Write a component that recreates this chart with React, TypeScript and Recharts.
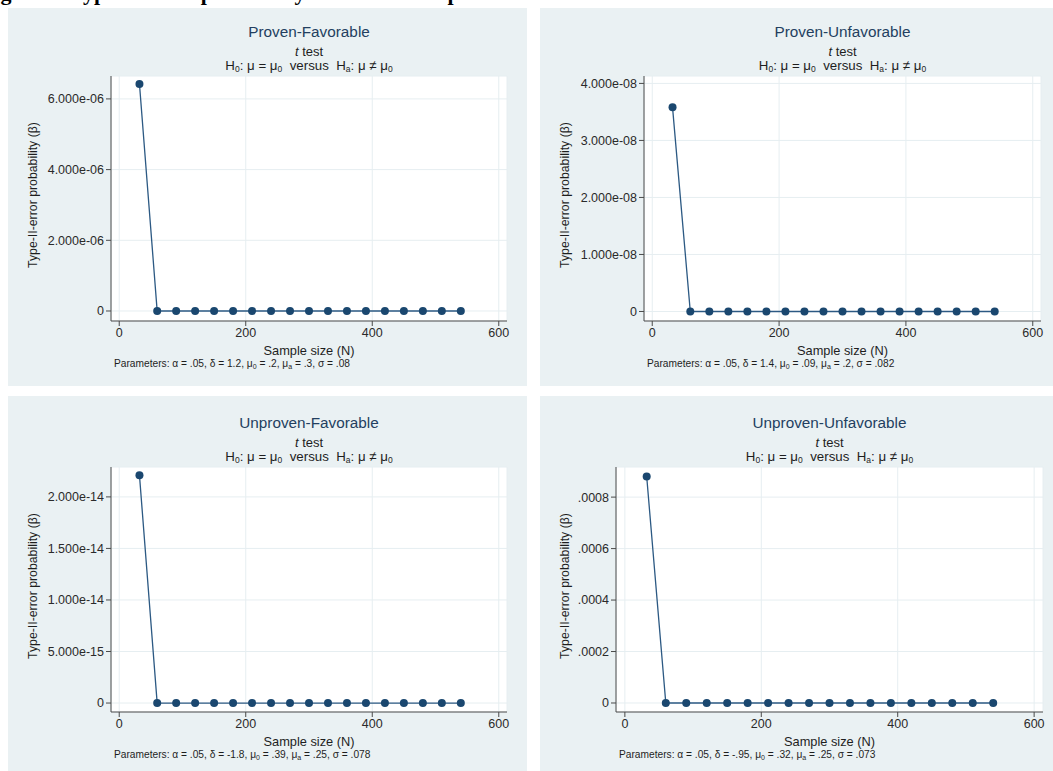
import React from "react";
import { LineChart, Line, XAxis, YAxis, CartesianGrid } from "recharts";

// sample sizes (N) on the x axis
const sampleSizes = [32, 60, 90, 120, 150, 180, 210, 240, 270, 300, 330, 360, 390, 420, 450, 480, 510, 540];

// type-II-error probability per group
const betaProvenFavorable = [6.42e-6, 0, 0, 0, 0, 0, 0, 0, 0, 0, 0, 0, 0, 0, 0, 0, 0, 0];
const betaProvenUnfavorable = [3.58e-8, 0, 0, 0, 0, 0, 0, 0, 0, 0, 0, 0, 0, 0, 0, 0, 0, 0];
const betaUnprovenFavorable = [2.21e-14, 0, 0, 0, 0, 0, 0, 0, 0, 0, 0, 0, 0, 0, 0, 0, 0, 0];
const betaUnprovenUnfavorable = [0.00088, 0, 0, 0, 0, 0, 0, 0, 0, 0, 0, 0, 0, 0, 0, 0, 0, 0];

const xTicks = [0, 200, 400, 600];

const yTicksPF = [0, 2e-6, 4e-6, 6e-6];
const yLabelsPF = ["0", "2.000e-06", "4.000e-06", "6.000e-06"];
const yTicksPU = [0, 1e-8, 2e-8, 3e-8, 4e-8];
const yLabelsPU = ["0", "1.000e-08", "2.000e-08", "3.000e-08", "4.000e-08"];
const yTicksUF = [0, 5e-15, 1e-14, 1.5e-14, 2e-14];
const yLabelsUF = ["0", "5.000e-15", "1.000e-14", "1.500e-14", "2.000e-14"];
const yTicksUU = [0, 0.0002, 0.0004, 0.0006, 0.0008];
const yLabelsUU = ["0", ".0002", ".0004", ".0006", ".0008"];

const BG = "#eaf1f3";
const GRID = "#e6eef1";
const NAVY = "#1a476f";
const AXIS = "#4a4a4a";
const FONT = "'Liberation Sans', Arial, sans-serif";

type Box = { x: number; y: number; w: number; h: number };
type Plot = { l: number; r: number; t: number; b: number };

interface PanelProps {
  title: string;
  params: [string, string, string, string, string];
  betas: number[];
  yTicks: number[];
  yLabels: string[];
  yDomain: [number, number];
  box: Box;
  plot: Plot;
}

const XH = 20;

function Center({ x, y, children, style }: { x: number; y: number; children: React.ReactNode; style?: React.CSSProperties }) {
  return (
    <div
      style={{
        position: "absolute",
        left: x,
        top: y,
        transform: "translate(-50%, -50%)",
        whiteSpace: "pre",
        lineHeight: 1,
        fontFamily: FONT,
        ...style,
      }}
    >
      {children}
    </div>
  );
}

const sub = (s: string, size: number) => (
  <span style={{ fontSize: size, position: "relative", top: 2 }}>{s}</span>
);

function Panel({ title, params, betas, yTicks, yLabels, yDomain, box, plot }: PanelProps) {
  const data = sampleSizes.map((n, i) => ({ n, beta: betas[i] }));
  const cx = (plot.l + plot.r) / 2 - box.x;
  const cy = (plot.t + plot.b) / 2 - box.y;
  const top = plot.t - box.y;
  const bottom = plot.b - box.y;

  return (
    <div style={{ position: "absolute", left: box.x, top: box.y, width: box.w, height: box.h, background: BG }}>
      <LineChart
        width={box.w}
        height={box.h}
        data={data}
        margin={{ top, right: box.x + box.w - plot.r, bottom: box.h - bottom - XH, left: 0 }}
      >
        <CartesianGrid fill="#ffffff" stroke={GRID} strokeWidth={1} />
        <XAxis
          type="number"
          dataKey="n"
          domain={[-13, 613]}
          ticks={xTicks}
          interval={0}
          allowDataOverflow
          height={XH}
          tickSize={5}
          tickMargin={2}
          axisLine={{ stroke: AXIS }}
          tickLine={{ stroke: AXIS }}
          tick={{ fill: "#2a2a2a", fontSize: 12.5, fontFamily: FONT }}
        />
        <YAxis
          type="number"
          domain={yDomain}
          ticks={yTicks}
          interval={0}
          allowDataOverflow
          width={plot.l - box.x}
          tickSize={5}
          tickMargin={2}
          axisLine={{ stroke: AXIS }}
          tickLine={{ stroke: AXIS }}
          tick={{ fill: "#2a2a2a", fontSize: 12.5, fontFamily: FONT }}
          tickFormatter={(v: number) => yLabels[yTicks.indexOf(v)] ?? String(v)}
        />
        <Line
          type="linear"
          dataKey="beta"
          stroke="#2c5983"
          strokeWidth={1.3}
          dot={{ r: 4, fill: NAVY, stroke: NAVY, strokeWidth: 0 }}
          isAnimationActive={false}
        />
      </LineChart>

      <Center x={cx} y={top - 44} style={{ fontSize: 15.3, color: "#233f60" }}>
        {title}
      </Center>
      <Center x={cx} y={top - 25} style={{ fontSize: 13, color: "#1e1e1e" }}>
        <i>t</i> test
      </Center>
      <Center x={cx} y={top - 10} style={{ fontSize: 13.3, color: "#1e1e1e" }}>
        H{sub("0", 8.5)}: μ = μ{sub("0", 8.5)}  versus  H{sub("a", 8.5)}: μ ≠ μ{sub("0", 8.5)}
      </Center>
      <Center
        x={25}
        y={cy - 4}
        style={{ fontSize: 12.3, color: "#1e1e1e", transform: "translate(-50%, -50%) rotate(-90deg)" }}
      >
        Type-II-error probability (β)
      </Center>
      <Center x={cx} y={bottom + 29.5} style={{ fontSize: 12.8, color: "#1e1e1e" }}>
        Sample size (N)
      </Center>
      <div
        style={{
          position: "absolute",
          left: plot.l - box.x + 3,
          top: bottom + 43,
          transform: "translateY(-50%)",
          fontFamily: FONT,
          fontSize: 10.2,
          lineHeight: 1,
          color: "#1e1e1e",
          whiteSpace: "pre",
        }}
      >
        Parameters: α = {params[0]}, δ = {params[1]}, μ{sub("0", 7)} = {params[2]}, μ{sub("a", 7)} = {params[3]}, σ = {params[4]}
      </div>
    </div>
  );
}

export default function App() {
  return (
    <div style={{ position: "absolute", left: 0, top: 0, width: 1053, height: 771, background: "#fff", overflow: "hidden" }}>
      <div style={{ position: "absolute", left: 0, top: 0, width: 1053, height: 8, overflow: "hidden" }}>
        <div
          style={{
            position: "absolute",
            left: -19,
            top: -18,
            fontFamily: "'Liberation Serif', 'Times New Roman', serif",
            fontWeight: "bold",
            fontSize: 22,
            lineHeight: 1,
            whiteSpace: "pre",
            color: "#000",
          }}
        >
          Figure 3. Type-II error probability across the sample sizes
        </div>
      </div>

      <Panel
        title="Proven-Favorable"
        params={[".05", "1.2", ".2", ".3", ".08"]}
        betas={betaProvenFavorable}
        yTicks={yTicksPF}
        yLabels={yLabelsPF}
        yDomain={[-2.83e-7, 6.648e-6]}
        box={{ x: 8, y: 8, w: 519, h: 378 }}
        plot={{ l: 111, r: 507, t: 76, b: 321 }}
      />
      <Panel
        title="Proven-Unfavorable"
        params={[".05", "1.4", ".09", ".2", ".082"]}
        betas={betaProvenUnfavorable}
        yTicks={yTicksPU}
        yLabels={yLabelsPU}
        yDomain={[-1.67e-9, 4.13e-8]}
        box={{ x: 540, y: 8, w: 513, h: 378 }}
        plot={{ l: 644, r: 1041, t: 76, b: 321 }}
      />
      <Panel
        title="Unproven-Favorable"
        params={[".05", "-1.8", ".39", ".25", ".078"]}
        betas={betaUnprovenFavorable}
        yTicks={yTicksUF}
        yLabels={yLabelsUF}
        yDomain={[-8.7e-16, 2.29e-14]}
        box={{ x: 8, y: 396, w: 519, h: 375 }}
        plot={{ l: 111, r: 507, t: 467, b: 712 }}
      />
      <Panel
        title="Unproven-Unfavorable"
        params={[".05", "-.95", ".32", ".25", ".073"]}
        betas={betaUnprovenUnfavorable}
        yTicks={yTicksUU}
        yLabels={yLabelsUU}
        yDomain={[-3.5e-5, 9.17e-4]}
        box={{ x: 540, y: 396, w: 513, h: 375 }}
        plot={{ l: 616, r: 1043, t: 467, b: 712 }}
      />
    </div>
  );
}
